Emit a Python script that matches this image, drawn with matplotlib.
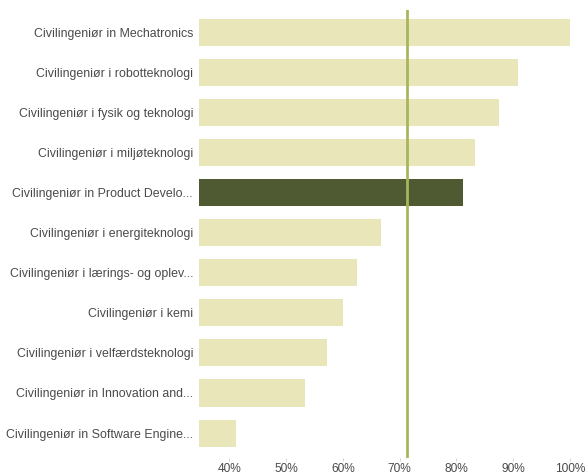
import numpy as np
import matplotlib
matplotlib.use("Agg")
import matplotlib.pyplot as plt
from matplotlib.ticker import FuncFormatter

plt.rcParams['font.family'] = ['Liberation Sans', 'DejaVu Sans']

programmes = ["Civilingeniør in Mechatronics",
              "Civilingeniør i robotteknologi",
              "Civilingeniør i fysik og teknologi",
              "Civilingeniør i miljøteknologi",
              "Civilingeniør in Product Develo...",
              "Civilingeniør i energiteknologi",
              "Civilingeniør i lærings- og oplev...",
              "Civilingeniør i kemi",
              "Civilingeniør i velfærdsteknologi",
              "Civilingeniør in Innovation and...",
              "Civilingeniør in Software Engine..."]
values = [100.0, 90.8, 87.5, 83.3, 81.2, 66.7, 62.4, 60.0, 57.2, 53.3, 41.1]
highlight = "Civilingeniør in Product Develo..."
average = 71.3
ticks = [40, 50, 60, 70, 80, 90, 100]

light = "#e9e6b9"
dark = "#4f5a32"
line_col = "#a9b55c"
txt = "#4a4a4a"

fig = plt.figure(figsize=(5.87, 4.76), dpi=100)
ax = fig.add_axes([199.3/587, (476-457.5)/476, (570-199.3)/587, 447.5/476])

ind = np.arange(len(programmes))
cols = [dark if p == highlight else light for p in programmes]
ax.barh(ind, values, height=0.675, color=cols, left=0, zorder=1)
ax.axvline(average, color=line_col, lw=2, zorder=2)

ax.set_xlim(34.7, 100)
ax.set_ylim(len(programmes) - 1 + 0.61, -0.56)

ax.set_yticks(ind)
ax.set_yticklabels(programmes, fontsize=8.9, color=txt)
ax.tick_params(axis='y', length=0, pad=4.5)

ax.set_xticks(ticks)
ax.xaxis.set_major_formatter(FuncFormatter(lambda x, pos: "%d%%" % x))
ax.tick_params(axis='x', length=2.5, width=0.6, color="#cccccc",
               labelsize=8.6, labelcolor=txt, pad=1.5)

for s in ax.spines.values():
    s.set_visible(False)

fig.savefig("out.png", dpi=100)
